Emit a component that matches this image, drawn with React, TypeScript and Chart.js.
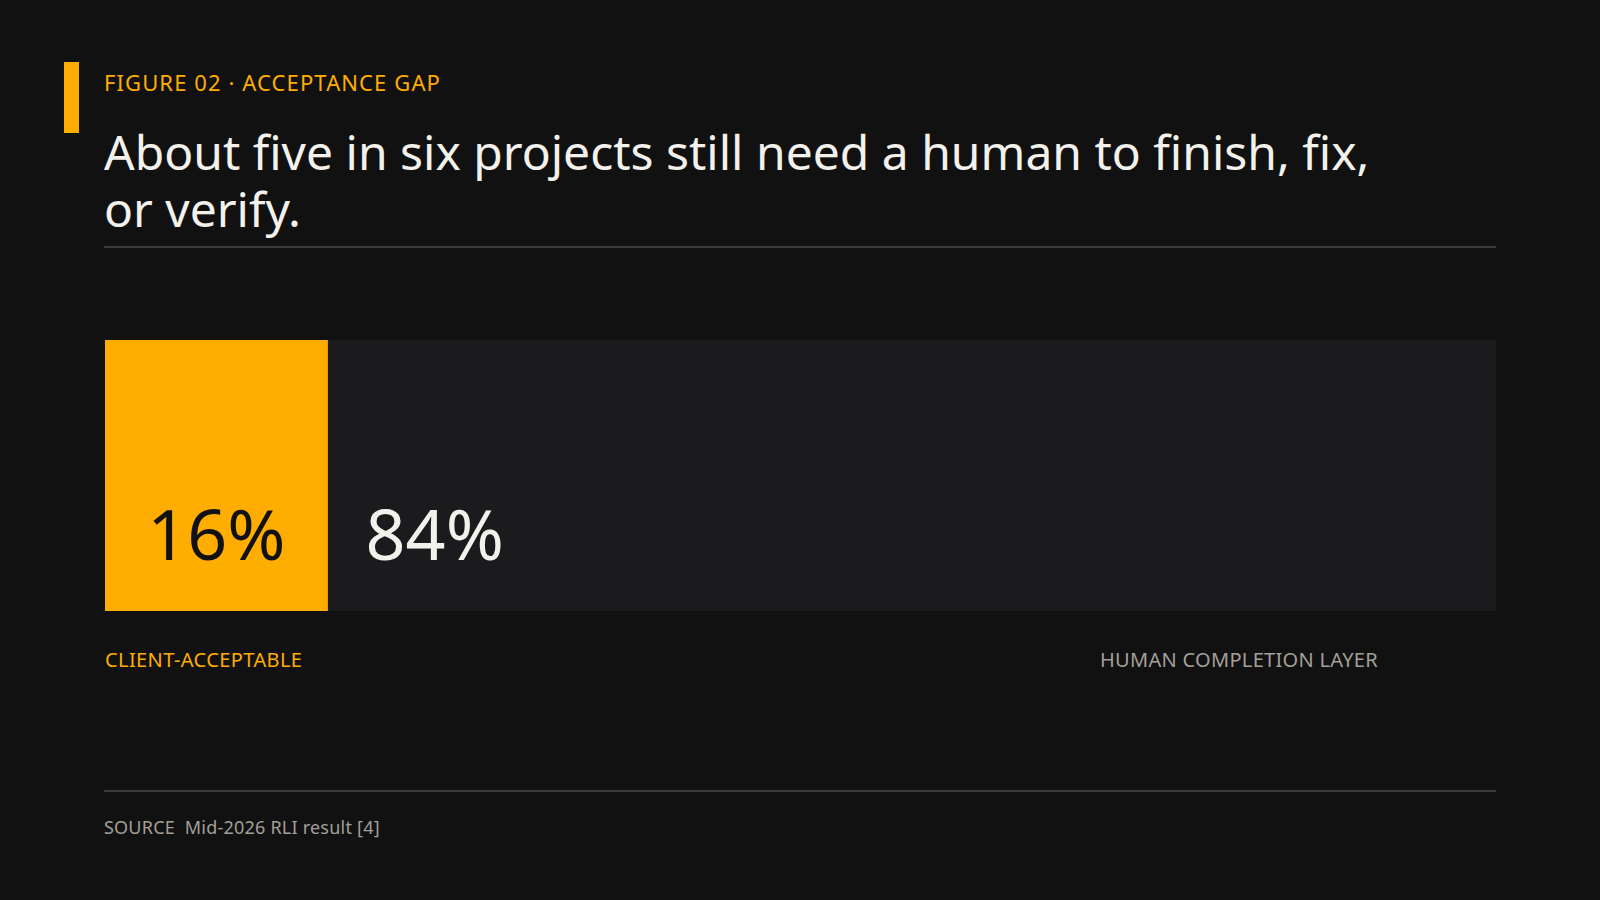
import React, { useEffect, useRef } from 'react';
import { Chart, ChartConfiguration, Plugin, registerables } from 'chart.js';

Chart.register(...registerables);

const categories = ['Projects'];
const segmentNames = ['CLIENT-ACCEPTABLE', 'HUMAN COMPLETION LAYER'];
const segmentValues = [16, 84];
const axisMax = 100;

const ORANGE = '#ffad00';
const TRACK = '#1b1b1e';
const BG = '#111111';
const INK = '#f3f1ec';
const MUTED = '#a39f99';
const FONT = '"Noto Sans", "Open Sans", sans-serif';

// big percentage labels sitting in the lower part of each segment
const valueLabels: Plugin<'bar'> = {
  id: 'valueLabels',
  afterDatasetsDraw(chart) {
    const { ctx } = chart;
    ctx.save();
    ctx.font = `400 70px ${FONT}`;
    ctx.textBaseline = 'alphabetic';
    chart.data.datasets.forEach((ds, i) => {
      const meta = chart.getDatasetMeta(i);
      const bar = meta.data[0] as any;
      if (!bar) return;
      const { x, base, y, height } = bar.getProps(['x', 'base', 'y', 'height'], true);
      const bottom = y + height / 2;
      const text = `${ds.data[0]}%`;
      if (i === 0) {
        ctx.fillStyle = BG;
        ctx.textAlign = 'center';
        ctx.fillText(text, (base + x) / 2, bottom - 51);
      } else {
        ctx.fillStyle = INK;
        ctx.textAlign = 'left';
        ctx.fillText(text, base + 38, bottom - 51);
      }
    });
    ctx.restore();
  },
};

const GapBar: React.FC = () => {
  const chartRef = useRef<HTMLCanvasElement>(null);
  const chartInstanceRef = useRef<Chart | null>(null);

  useEffect(() => {
    if (!chartRef.current) return;
    const ctx = chartRef.current.getContext('2d');
    if (!ctx) return;

    if (chartInstanceRef.current) {
      chartInstanceRef.current.destroy();
    }

    const config: ChartConfiguration<'bar'> = {
      type: 'bar',
      data: {
        labels: categories,
        datasets: segmentValues.map((v, i) => ({
          label: segmentNames[i],
          data: [v],
          backgroundColor: i === 0 ? ORANGE : TRACK,
          borderWidth: 0,
          barPercentage: 1,
          categoryPercentage: 1,
        })),
      },
      options: {
        indexAxis: 'y',
        responsive: true,
        maintainAspectRatio: false,
        animation: false,
        layout: { padding: 0 },
        scales: {
          x: { stacked: true, min: 0, max: axisMax, display: false },
          y: { stacked: true, display: false },
        },
        plugins: {
          legend: { display: false },
          tooltip: { enabled: false },
        },
      },
      plugins: [valueLabels],
    };

    chartInstanceRef.current = new Chart(ctx, config);

    return () => {
      if (chartInstanceRef.current) {
        chartInstanceRef.current.destroy();
        chartInstanceRef.current = null;
      }
    };
  }, []);

  return (
    <div style={{ position: 'absolute', left: 105, top: 340, width: 1391, height: 271 }}>
      <canvas ref={chartRef} />
    </div>
  );
};

export default function App() {
  return (
    <div
      style={{
        position: 'fixed',
        left: 0,
        top: 0,
        width: 1600,
        height: 900,
        background: BG,
        fontFamily: FONT,
        overflow: 'hidden',
      }}
    >
      <div style={{ position: 'absolute', left: 64, top: 62, width: 15, height: 71, background: ORANGE }} />
      <div
        style={{
          position: 'absolute',
          left: 104,
          top: 67,
          fontSize: 22,
          lineHeight: '30px',
          color: ORANGE,
          letterSpacing: '0.05em',
        }}
      >
        FIGURE 02 · ACCEPTANCE GAP
      </div>
      <div
        style={{
          position: 'absolute',
          left: 104,
          top: 123,
          width: 1300,
          fontSize: 48,
          lineHeight: '57px',
          color: INK,
        }}
      >
        About five in six projects still need a human to finish, fix, or verify.
      </div>
      <div style={{ position: 'absolute', left: 104, top: 246, width: 1392, height: 2, background: '#3a3a37' }} />

      <GapBar />

      <div style={{ position: 'absolute', left: 105, top: 647, fontSize: 20, lineHeight: '26px', color: ORANGE, letterSpacing: '0.02em' }}>
        {segmentNames[0]}
      </div>
      <div style={{ position: 'absolute', left: 1100, top: 647, fontSize: 20, lineHeight: '26px', color: MUTED, letterSpacing: '0.015em' }}>
        {segmentNames[1]}
      </div>

      <div style={{ position: 'absolute', left: 104, top: 790, width: 1392, height: 2, background: '#3a3a37' }} />
      <div
        style={{
          position: 'absolute',
          left: 104,
          top: 815,
          fontSize: 18,
          lineHeight: '24px',
          color: MUTED,
          whiteSpace: 'pre',
          letterSpacing: '0.012em',
        }}
      >
        {'SOURCE  Mid-2026 RLI result [4]'}
      </div>
    </div>
  );
}
